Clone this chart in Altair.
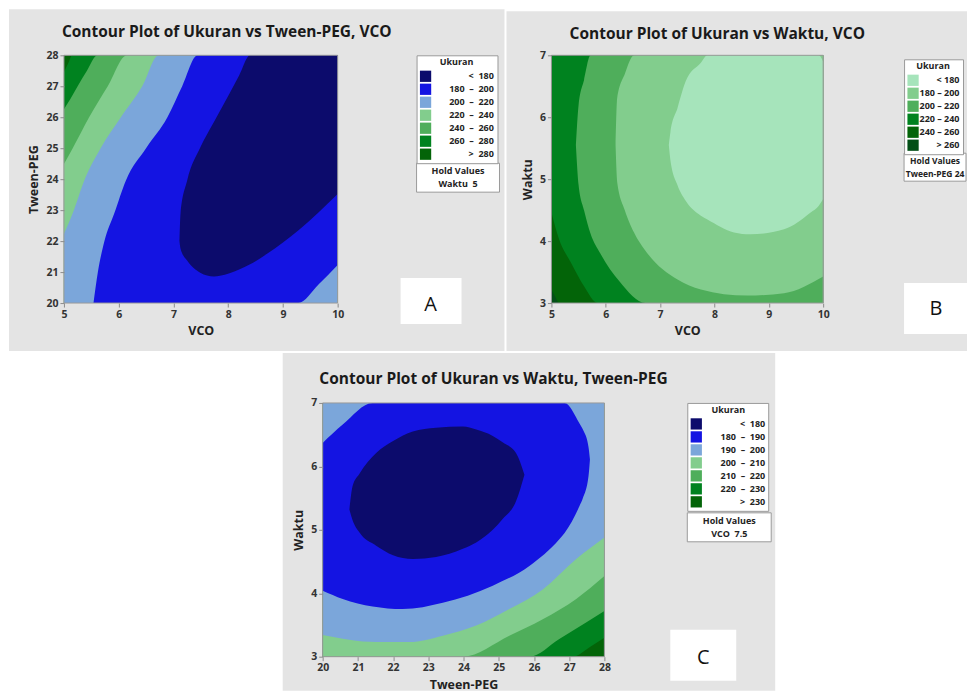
import altair as alt
import pandas as pd

NB = "\u00a0"
FONT = "Open Sans"

# ---------------- Panel A : Ukuran vs Tween-PEG, VCO (hold Waktu 5) ----------------
A_LABELS = [f"<{NB}{NB}180{NB}{NB}", f"180{NB}{NB}–{NB}{NB}200{NB}{NB}", f"200{NB}{NB}–{NB}{NB}220{NB}{NB}",
            f"220{NB}{NB}–{NB}{NB}240{NB}{NB}", f"240{NB}{NB}–{NB}{NB}260{NB}{NB}",
            f"260{NB}{NB}–{NB}{NB}280{NB}{NB}", f">{NB}{NB}280{NB}{NB}"]
A_COLORS = ["#0c0b6c", "#1414e2", "#7ba6da", "#82cd8d", "#4fae5b", "#00821f", "#036408"]
A_X_TICKS = [5, 6, 7, 8, 9, 10]
A_Y_TICKS = [20, 21, 22, 23, 24, 25, 26, 27, 28]

# sublevel regions: x, lower edge, upper edge
A_GT280_X = [5, 10]
A_GT280_LO = [20, 20]
A_GT280_HI = [28, 28]
A_LT280_X = [5, 5.08, 5.15, 10]
A_LT280_LO = [20, 20, 20, 20]
A_LT280_HI = [27.45, 27.75, 28, 28]
A_LT260_X = [5, 5.12, 5.25, 5.42, 5.61, 10]
A_LT260_LO = [20, 20, 20, 20, 20, 20]
A_LT260_HI = [26.26, 26.6, 27.0, 27.5, 28, 28]
A_LT240_X = [5, 5.16, 5.46, 5.8, 6.15, 10]
A_LT240_LO = [20, 20, 20, 20, 20, 20]
A_LT240_HI = [24.49, 25.0, 26.0, 27.0, 28, 28]
A_LT220_X = [5, 5.16, 5.37, 5.67, 6.04, 6.43, 6.73, 10]
A_LT220_LO = [20, 20, 20, 20, 20, 20, 20, 20]
A_LT220_HI = [22.23, 22.9, 23.95, 25.0, 26.0, 27.0, 28, 28]
A_LT200_X = [5.54, 5.62, 5.74, 5.92, 6.13, 6.5, 6.89, 7.16, 7.44, 9.28, 9.65, 10]
A_LT200_LO = [20, 20, 20, 20, 20, 20, 20, 20, 20, 20, 20.6, 21.23]
A_LT200_HI = [20, 21.0, 22.0, 22.9, 23.95, 25.0, 26.0, 27.0, 28, 28, 28, 28]
A_LT180_X = [7.11, 7.13, 7.25, 7.49, 7.74, 7.85, 8.2, 8.4, 8.71, 9.28, 10]
A_LT180_LO = [22.0, 21.75, 21.37, 20.98, 20.86, 20.88, 21.08, 21.25, 21.59, 22.34, 23.52]
A_LT180_HI = [22.0, 22.9, 23.95, 25.02, 25.85, 26.2, 27.35, 28, 28, 28, 28]

# ---------------- Panel B : Ukuran vs Waktu, VCO (hold Tween-PEG 24) ----------------
B_LABELS = [f"<{NB}180", f"180{NB}–{NB}200", f"200{NB}–{NB}220",
            f"220{NB}–{NB}240", f"240{NB}–{NB}260", f">{NB}260"]
B_COLORS = ["#a6e4bb", "#82cd8d", "#4fae5b", "#00821f", "#036408", "#034f17"]
B_X_TICKS = [5, 6, 7, 8, 9, 10]
B_Y_TICKS = [3, 4, 5, 6, 7]

B_GT260_X = [5, 10]
B_GT260_LO = [3, 3]
B_GT260_HI = [7, 7]
B_LT260_X = [5, 5.07, 5.14, 10]
B_LT260_LO = [3.22, 3.1, 3.0, 3.0]
B_LT260_HI = [7, 7, 7, 7]
B_LT240_X = [5, 5.14, 5.36, 5.6, 5.85, 10]
B_LT240_LO = [4.46, 4.03, 3.65, 3.27, 3.0, 3.0]
B_LT240_HI = [7, 7, 7, 7, 7, 7]
B_LT220_X = [5.45, 5.5, 5.6, 5.72, 5.9, 6.25, 6.73, 10]
B_LT220_LO = [5.55, 4.9, 4.5, 4.12, 3.8, 3.35, 3.0, 3.0]
B_LT220_HI = [5.55, 6.2, 6.6, 7, 7, 7, 7, 7]
B_LT200_X = [6.18, 6.21, 6.35, 6.52, 6.76, 7.32, 7.75, 8.6, 9.28, 10]
B_LT200_LO = [5.55, 4.95, 4.5, 4.14, 3.81, 3.38, 3.22, 3.12, 3.16, 3.43]
B_LT200_HI = [5.55, 6.31, 6.7, 7, 7, 7, 7, 7, 7, 7]
B_LT180_X = [7.16, 7.19, 7.32, 7.47, 7.75, 7.87, 8.36, 8.66, 9.28, 9.77, 9.92, 10]
B_LT180_LO = [5.55, 5.3, 4.9, 4.65, 4.41, 4.35, 4.14, 4.11, 4.19, 4.46, 4.57, 4.68]
B_LT180_HI = [5.55, 5.76, 6.15, 6.58, 6.88, 7, 7, 7, 7, 7, 7, 6.9]

# ---------------- Panel C : Ukuran vs Waktu, Tween-PEG (hold VCO 7.5) ----------------
C_LABELS = [f"<{NB}{NB}180{NB}{NB}", f"180{NB}{NB}–{NB}{NB}190{NB}{NB}", f"190{NB}{NB}–{NB}{NB}200{NB}{NB}",
            f"200{NB}{NB}–{NB}{NB}210{NB}{NB}", f"210{NB}{NB}–{NB}{NB}220{NB}{NB}",
            f"220{NB}{NB}–{NB}{NB}230{NB}{NB}", f">{NB}{NB}230{NB}{NB}"]
C_COLORS = ["#0c0b6c", "#1414e2", "#7ba6da", "#82cd8d", "#4fae5b", "#00821f", "#036408"]
C_X_TICKS = [20, 21, 22, 23, 24, 25, 26, 27, 28]
C_Y_TICKS = [3, 4, 5, 6, 7]

C_GT230_X = [20, 28]
C_GT230_LO = [3, 3]
C_GT230_HI = [7, 7]
C_LT230_X = [20, 27.1, 27.58, 28]
C_LT230_LO = [3, 3, 3.15, 3.3]
C_LT230_HI = [7, 7, 7, 7]
C_LT220_X = [20, 25.87, 26.72, 27.48, 28]
C_LT220_LO = [3, 3, 3.28, 3.54, 3.72]
C_LT220_HI = [7, 7, 7, 7, 7]
C_LT210_X = [20, 23.98, 25.3, 26.25, 27.2, 28]
C_LT210_LO = [3, 3, 3.33, 3.59, 3.91, 4.27]
C_LT210_HI = [7, 7, 7, 7, 7, 7]
C_LT200_X = [20, 21.52, 22.46, 23.41, 24.36, 25.3, 26.25, 27.2, 28]
C_LT200_LO = [3.34, 3.23, 3.23, 3.33, 3.49, 3.75, 4.06, 4.54, 4.88]
C_LT200_HI = [7, 7, 7, 7, 7, 7, 7, 7, 7]
C_LT190_X = [20, 20.57, 21.42, 22.27, 23.41, 24.83, 25.87, 26.72, 26.87, 27.29, 27.39, 27.55, 27.59]
C_LT190_LO = [4.04, 3.91, 3.79, 3.75, 3.85, 4.12, 4.43, 4.85, 4.95, 5.37, 5.5, 5.85, 6.11]
C_LT190_HI = [6.37, 6.66, 7, 7, 7, 7, 7, 7, 7, 6.68, 6.58, 6.3, 6.11]
C_LT180_X = [20.76, 20.85, 21.04, 21.52, 22.0, 22.56, 23.22, 23.98, 24.36, 24.83, 25.11, 25.49, 25.73]
C_LT180_LO = [5.32, 5.15, 4.96, 4.75, 4.6, 4.54, 4.57, 4.7, 4.8, 5.0, 5.17, 5.45, 5.87]
C_LT180_HI = [5.32, 5.69, 5.88, 6.21, 6.4, 6.55, 6.61, 6.63, 6.58, 6.48, 6.38, 6.21, 5.87]

PANEL_GRAY = "#e4e4e4"
ONE = pd.DataFrame({"k": [0]})


def axis(ticks, title, offset=0):
    return alt.Axis(values=ticks, format="d", title=title, grid=False, domain=False,
                    tickColor="#8c8c8c", tickSize=4, tickWidth=1, zindex=2, offset=offset,
                    labelFont=FONT, labelFontSize=10.5, labelFontWeight="bold",
                    labelColor="#333333", labelPadding=2, labelFlush=False,
                    titleFont=FONT, titleFontSize=12.5, titleFontWeight="bold",
                    titleColor="#222222", titlePadding=5)


def panel(regions, labels, colors, xdom, ydom, xticks, yticks, xtitle, ytitle,
          w, h, gray, title, title_x, title_y, legend_xy, label_offset,
          hold_box, hold_lines, hold_size, letter_box, letter_xy, shift=0, view_w=None):
    s = shift
    xs = alt.Scale(domain=xdom, nice=False, zero=False, range=[s, s + w])
    ys = alt.Scale(domain=ydom, nice=False, zero=False)
    cscale = alt.Scale(domain=labels, range=colors)
    legend = alt.Legend(title="Ukuran", orient="none", legendX=legend_xy[0] + s, legendY=legend_xy[1],
                        direction="vertical", symbolType="square", symbolSize=127,
                        symbolStrokeWidth=0, labelFont=FONT, labelFontSize=9,
                        labelFontWeight="bold", labelColor="#222222", labelAlign="right",
                        labelOffset=label_offset, titleFont=FONT, titleFontSize=9,
                        titleFontWeight="bold", titleColor="#222222", titleAnchor="middle",
                        titlePadding=3, rowPadding=1, padding=3, fillColor="white",
                        strokeColor="#9a9a9a")
    xaxis = axis(xticks, xtitle)
    yaxis = axis(yticks, ytitle, offset=-s)
    gx0, gx1, gy0, gy1 = gray
    layers = [alt.Chart(ONE).mark_rect(color=PANEL_GRAY).encode(
        x=alt.value(gx0 + s), x2=alt.value(gx1 + s), y=alt.value(gy0), y2=alt.value(gy1))]
    for cat, (rx, rlo, rhi) in regions:
        df = pd.DataFrame({"x": rx, "lo": rlo, "hi": rhi, "cat": [cat] * len(rx)})
        layers.append(alt.Chart(df).mark_area(interpolate="monotone").encode(
            x=alt.X("x:Q", scale=xs, axis=xaxis),
            y=alt.Y("lo:Q", scale=ys, axis=yaxis, stack=False),
            y2="hi:Q",
            color=alt.Color("cat:N", scale=cscale, legend=legend),
        ))
    # plot frame
    layers.append(alt.Chart(ONE).mark_rect(fillOpacity=0, stroke="#9a9a9a", strokeWidth=1).encode(
        x=alt.value(s), x2=alt.value(s + w), y=alt.value(0), y2=alt.value(h)))
    # hold values box
    hx0, hy0, hx1, hy1 = hold_box
    layers.append(alt.Chart(ONE).mark_rect(fill="white", stroke="#9a9a9a", strokeWidth=1).encode(
        x=alt.value(hx0 + s), x2=alt.value(hx1 + s), y=alt.value(hy0), y2=alt.value(hy1)))
    for i, line in enumerate(hold_lines):
        layers.append(alt.Chart(ONE).mark_text(font=FONT, fontSize=hold_size, fontWeight="bold",
                                               color="#222222", align="center",
                                               baseline="alphabetic").encode(
            x=alt.value((hx0 + hx1) / 2 + s), y=alt.value(hy0 + 11 + 13 * i), text=alt.value(line)))
    # letter box
    lx0, ly0, lx1, ly1, letter = letter_box
    layers.append(alt.Chart(ONE).mark_rect(fill="white").encode(
        x=alt.value(lx0 + s), x2=alt.value(lx1 + s), y=alt.value(ly0), y2=alt.value(ly1)))
    layers.append(alt.Chart(ONE).mark_text(font=FONT, fontSize=20, color="#111111",
                                           align="center", baseline="alphabetic").encode(
        x=alt.value(letter_xy[0] + s), y=alt.value(letter_xy[1]), text=alt.value(letter)))
    # title
    layers.append(alt.Chart(ONE).mark_text(font=FONT, fontSize=15.5, fontWeight="bold",
                                           color="#1a1a1a", align="center",
                                           baseline="alphabetic").encode(
        x=alt.value(title_x + s), y=alt.value(title_y), text=alt.value(title)))
    return alt.layer(*layers).properties(width=view_w if view_w else w, height=h)


chart_a = panel(
    [(A_LABELS[6], (A_GT280_X, A_GT280_LO, A_GT280_HI)),
     (A_LABELS[5], (A_LT280_X, A_LT280_LO, A_LT280_HI)),
     (A_LABELS[4], (A_LT260_X, A_LT260_LO, A_LT260_HI)),
     (A_LABELS[3], (A_LT240_X, A_LT240_LO, A_LT240_HI)),
     (A_LABELS[2], (A_LT220_X, A_LT220_LO, A_LT220_HI)),
     (A_LABELS[1], (A_LT200_X, A_LT200_LO, A_LT200_HI)),
     (A_LABELS[0], (A_LT180_X, A_LT180_LO, A_LT180_HI))],
    A_LABELS, A_COLORS, [5, 10], [20, 28], A_X_TICKS, A_Y_TICKS, "VCO", "Tween-PEG",
    274, 248, (-55, 441, -46, 296), "Contour Plot of Ukuran vs Tween-PEG, VCO", 163, -18.5,
    (353, 0), 62.3, (353, 108, 436, 137), ["Hold Values", f"Waktu{NB}{NB}5"], 9,
    (337, 223, 398, 269, "A"), (367, 256))

chart_b = panel(
    [(B_LABELS[5], (B_GT260_X, B_GT260_LO, B_GT260_HI)),
     (B_LABELS[4], (B_LT260_X, B_LT260_LO, B_LT260_HI)),
     (B_LABELS[3], (B_LT240_X, B_LT240_LO, B_LT240_HI)),
     (B_LABELS[2], (B_LT220_X, B_LT220_LO, B_LT220_HI)),
     (B_LABELS[1], (B_LT200_X, B_LT200_LO, B_LT200_HI)),
     (B_LABELS[0], (B_LT180_X, B_LT180_LO, B_LT180_HI))],
    B_LABELS, B_COLORS, [5, 10], [3, 7], B_X_TICKS, B_Y_TICKS, "VCO", "Waktu",
    272, 248, (-45, 416, -44, 296), "Contour Plot of Ukuran vs Waktu, VCO", 166, -16,
    (353, 4), 40.5, (353, 98, 415, 126), ["Hold Values", f"Tween-PEG{NB}24"], 8.5,
    (353, 228, 416, 279, "B"), (385, 260))

# panel C sits under the second column; its plot is drawn 229 px left of that column's origin
chart_c = panel(
    [(C_LABELS[6], (C_GT230_X, C_GT230_LO, C_GT230_HI)),
     (C_LABELS[5], (C_LT230_X, C_LT230_LO, C_LT230_HI)),
     (C_LABELS[4], (C_LT220_X, C_LT220_LO, C_LT220_HI)),
     (C_LABELS[3], (C_LT210_X, C_LT210_LO, C_LT210_HI)),
     (C_LABELS[2], (C_LT200_X, C_LT200_LO, C_LT200_HI)),
     (C_LABELS[1], (C_LT190_X, C_LT190_LO, C_LT190_HI)),
     (C_LABELS[0], (C_LT180_X, C_LT180_LO, C_LT180_HI))],
    C_LABELS, C_COLORS, [20, 28], [3, 7], C_X_TICKS, C_Y_TICKS, "Tween-PEG", "Waktu",
    282, 254, (-40, 453, -50, 288), "Contour Plot of Ukuran vs Waktu, Tween-PEG", 171, -19,
    (365, 0), 63, (365, 110, 449, 139), ["Hold Values", f"VCO{NB}{NB}7.5"], 9,
    (348, 227, 414, 278, "C"), (381, 261), shift=-229, view_w=53)

spacer = alt.Chart(ONE).mark_rect(opacity=0).encode(
    x=alt.value(0), x2=alt.value(10), y=alt.value(0), y2=alt.value(10)
).properties(width=10, height=10)

chart = alt.concat(
    chart_a, chart_b, spacer, chart_c,
    columns=2, spacing={"row": 100, "column": 214}, bounds="flush",
).resolve_scale(x="independent", y="independent", color="independent").properties(
    padding=0, background="white"
).configure_view(stroke="transparent")

chart.save("out.html", embed_options={"renderer": "svg", "actions": False})
